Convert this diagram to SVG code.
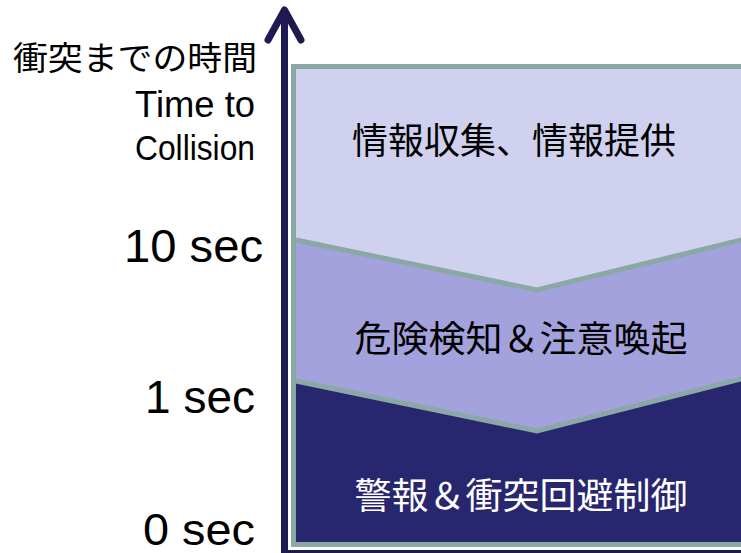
<svg xmlns="http://www.w3.org/2000/svg" width="741" height="553" viewBox="0 0 741 553">
<style>
.lat{font-family:"Liberation Sans",Arial,sans-serif;fill:#000}
.cjk{font-family:"Noto Sans CJK JP","Noto Sans CJK SC",sans-serif}
.div{fill:none;stroke:#8aa8a5;stroke-width:5;stroke-linejoin:miter}
.ax{fill:none;stroke:#1d1b4f;stroke-width:7;stroke-linecap:round;stroke-linejoin:round}
</style>
<rect width="741" height="553" fill="#fff"/>
<g id="phases">
<g id="phase-info">
<polygon points="296,69 745,69 745,239 537,290 296,240" fill="#d0d0ef"/>
<text class="cjk" x="514" y="154" font-size="36" text-anchor="middle" fill="#000" textLength="324" lengthAdjust="spacingAndGlyphs">情報収集、情報提供</text>
</g>
<g id="phase-alert">
<polygon points="296,240 537,290 745,239 745,378 537,431 296,381" fill="#a3a2dc"/>
<text class="cjk" x="521" y="352" font-size="36" text-anchor="middle" fill="#000" textLength="333" lengthAdjust="spacingAndGlyphs">危険検知＆注意喚起</text>
</g>
<g id="phase-control">
<polygon points="296,381 537,431 745,378 745,544 296,544" fill="#27266f"/>
<text class="cjk" x="521" y="509" font-size="36" text-anchor="middle" fill="#fff" textLength="333" lengthAdjust="spacingAndGlyphs">警報＆衝突回避制御</text>
</g>
<rect x="293.5" y="66.5" width="460" height="478" fill="none" stroke="#8aa8a5" stroke-width="5"/>
</g>
<g id="connectors">
<polyline class="div" points="296,240 537,290 745,239"/>
<polyline class="div" points="296,381 537,431 745,378"/>
<line class="ax" x1="284.5" y1="556" x2="284.5" y2="12"/>
<polyline class="ax" points="268,40 284.5,10 301,40"/>
<line x1="281" y1="551.5" x2="745" y2="551.5" stroke="#1d1b4f" stroke-width="3"/>
</g>
<g id="axis-labels">
<text class="cjk" x="257" y="70" font-size="33" text-anchor="end" textLength="244" lengthAdjust="spacingAndGlyphs">衝突までの時間</text>
<text class="lat" x="255" y="117" font-size="36" text-anchor="end" textLength="120" lengthAdjust="spacingAndGlyphs">Time to</text>
<text class="lat" x="255" y="160" font-size="35" text-anchor="end" textLength="120" lengthAdjust="spacingAndGlyphs">Collision</text>
<text class="lat" x="263" y="262" font-size="46" text-anchor="end" textLength="139" lengthAdjust="spacingAndGlyphs">10 sec</text>
<text class="lat" x="255" y="413" font-size="46" text-anchor="end" textLength="110" lengthAdjust="spacingAndGlyphs">1 sec</text>
<text class="lat" x="255" y="545" font-size="44" text-anchor="end" textLength="112" lengthAdjust="spacingAndGlyphs">0 sec</text>
</g>
</svg>
